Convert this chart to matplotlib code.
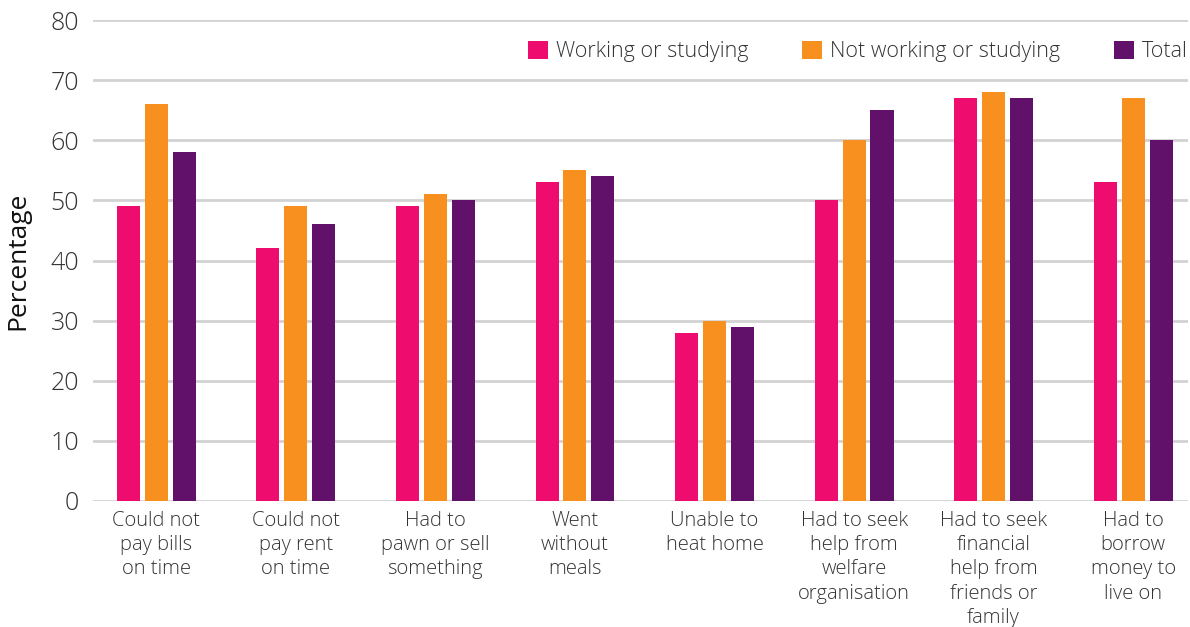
import matplotlib
matplotlib.use("Agg")
import matplotlib.pyplot as plt
import numpy as np

categories = [
    "Could not\npay bills\non time",
    "Could not\npay rent\non time",
    "Had to\npawn or sell\nsomething",
    "Went\nwithout\nmeals",
    "Unable to\nheat home",
    "Had to seek\nhelp from\nwelfare\norganisation",
    "Had to seek\nfinancial\nhelp from\nfriends or\nfamily",
    "Had to\nborrow\nmoney to\nlive on",
]
series_names = ["Working or studying", "Not working or studying", "Total"]
working = [49, 42, 49, 53, 28, 50, 67, 53]
not_working = [66, 49, 51, 55, 30, 60, 68, 67]
total = [58, 46, 50, 54, 29, 65, 67, 60]
y_ticks = [0, 10, 20, 30, 40, 50, 60, 70, 80]

colors = ["#EE0C6E", "#F7901E", "#61116A"]
text_color = "#333333"
grid_color = "#D3D3D3"

plt.rcParams["font.family"] = ["Open Sans", "DejaVu Sans"]
plt.rcParams["font.weight"] = "light"

fig = plt.figure(figsize=(11.9, 6.27), dpi=100)
ax = fig.add_axes([0.078, 0.201, 0.920, 0.767])

x = np.arange(len(categories))
bar_w = 0.165
step = 0.2
for i, (vals, name, c) in enumerate(zip([working, not_working, total], series_names, colors)):
    ax.bar(x + (i - 1) * step, vals, width=bar_w, color=c, label=name, zorder=3)

ax.set_ylim(0, 80)
ax.set_xlim(-0.455, 7.39)
ax.set_yticks(y_ticks)
ax.set_yticklabels([str(t) for t in y_ticks], fontsize=18, color=text_color)
ax.set_xticks(x)
ax.set_xticklabels(categories, fontsize=14.5, color=text_color, linespacing=1.29)
ax.tick_params(axis="both", length=0)
ax.tick_params(axis="x", pad=7)
ax.tick_params(axis="y", pad=10)

for t in y_ticks:
    ax.axhline(t, color=grid_color, lw=2, zorder=1)
for s in ax.spines.values():
    s.set_visible(False)

ax.set_ylabel("Percentage", fontsize=19, color="#111111", labelpad=14)

leg = ax.legend(loc="upper right", bbox_to_anchor=(1.008, 0.975), ncol=3, frameon=False,
                handlelength=0.95, handleheight=0.95, handletextpad=0.35,
                columnspacing=2.5, fontsize=15.5, borderaxespad=0)
for txt in leg.get_texts():
    txt.set_color(text_color)

fig.savefig("out.png", dpi=100, facecolor="white")
